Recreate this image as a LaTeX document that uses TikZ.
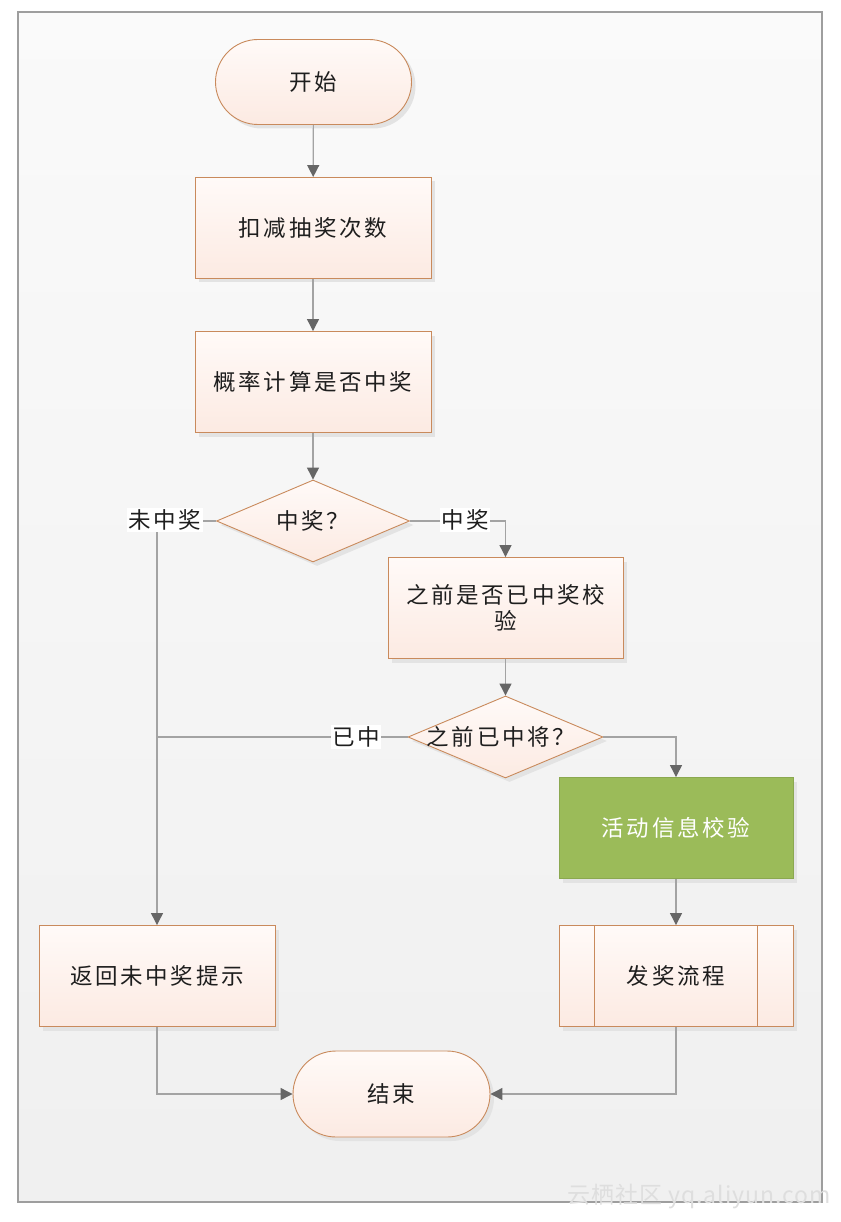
\documentclass[tikz,border=0pt]{standalone}
\usepackage{fontspec}
\newfontfamily\cjk[LetterSpace=12]{Noto Sans CJK SC}
\newfontfamily\wmfont[LetterSpace=4]{Noto Sans CJK SC}
\usetikzlibrary{shapes.geometric,shapes.misc,arrows.meta,shadows,calc}
\definecolor{bord}{HTML}{C98A5C}
\definecolor{ftop}{HTML}{FFFAF8}
\definecolor{fbot}{HTML}{FCEAE2}
\definecolor{lin}{HTML}{A3A3A3}
\definecolor{tip}{HTML}{666666}
\definecolor{grn}{HTML}{9BBB59}
\definecolor{txt}{HTML}{1E1E1E}
\tikzset{
  base/.style={draw=bord, line width=0.9pt, top color=ftop, bottom color=fbot, inner sep=0pt,
    font=\cjk\fontsize{22.5}{26}\selectfont, text=txt, align=center,
    drop shadow={shadow xshift=4pt, shadow yshift=-4pt, fill=black!11, opacity=1}},
  proc/.style={base, rectangle, minimum width=236pt, minimum height=101pt},
  term/.style={base, rounded rectangle, minimum width=196pt, minimum height=85pt},
  dia/.style={base, diamond, minimum width=193pt, minimum height=82pt, aspect=2.35},
  green/.style={proc, draw=grn!90!black, fill=grn, top color=grn, bottom color=grn, text=white},
  conn/.style={draw=lin, line width=1.2pt, -{Triangle[length=12pt,width=12pt,color=tip]}},
  plain/.style={draw=lin, line width=1.2pt},
  lab/.style={fill=white, inner sep=1.5pt, font=\cjk\fontsize{22.5}{26}\selectfont, text=txt},
}
\begin{document}
\begin{tikzpicture}[x=1pt,y=-1pt]
\useasboundingbox (0,0) rectangle (840,1222);
\shade[top color=white!98!black, bottom color=black!6] (18,12) rectangle (822,1202);
\draw[draw=black!38, line width=1.4pt] (18,12) rectangle (822,1202);
\node[text=black!13, font=\wmfont\fontsize{23}{26}\selectfont, anchor=east] (wm) at (834,1196) {云栖社区 yq.aliyun.com};

\node[term] (start) at (313.5,82) {开始};
\node[proc] (b1) at (313,228) {扣减抽奖次数};
\node[proc] (b2) at (313,382) {概率计算是否中奖};
\node[dia] (d1) at (313,521) {中奖？};
\node[proc, minimum width=235pt] (b3) at (505.5,608) {之前是否已中奖校\\验};
\node[dia, minimum width=195pt] (d2) at (505.5,737) {};
\node[font=\cjk\fontsize{22.5}{26}\selectfont, text=txt] (d2t) at (501,737) {之前已中将？};
\node[green, minimum width=234pt] (g) at (676,828) {活动信息校验};
\node[proc, minimum width=234pt] (p) at (676,976) {发奖流程};
\draw[draw=bord, line width=0.9pt] ([xshift=36pt]p.north west) -- ([xshift=36pt]p.south west)
  ([xshift=-36pt]p.north east) -- ([xshift=-36pt]p.south east);
\node[proc] (r) at (157,976) {返回未中奖提示};
\node[term, minimum width=197pt, minimum height=86pt] (end) at (391.5,1094) {结束};

\coordinate (c1) at (157,521);
\coordinate (c2) at (505.5,521);
\coordinate (c3) at (157,737);
\coordinate (c4) at (676,737);
\coordinate (c5) at (157,1094);
\coordinate (c6) at (676,1094);

\draw[conn] (start) -- (b1);
\draw[conn] (b1) -- (b2);
\draw[conn] (b2.south) -- ++(0,22) -| (d1.north);
\draw[conn] (d1.west) -- (c1) -- (r.north);
\draw[conn] (d1.east) -- (c2) -- (b3.north);
\draw[conn] (b3) -- (d2);
\draw[plain] (d2.west) -- (c3);
\draw[conn] (d2.east) -- (c4) -- (g.north);
\draw[conn] (g) -- (p);
\draw[conn] (r.south) -- (c5) -- (end.west);
\draw[conn] (p.south) -- (c6) -- (end.east);

\node[lab] (l1) at (165,520) {未中奖};
\node[lab] (l2) at (465,520) {中奖};
\node[lab] (l3) at (356,737) {已中};
\end{tikzpicture}
\end{document}
